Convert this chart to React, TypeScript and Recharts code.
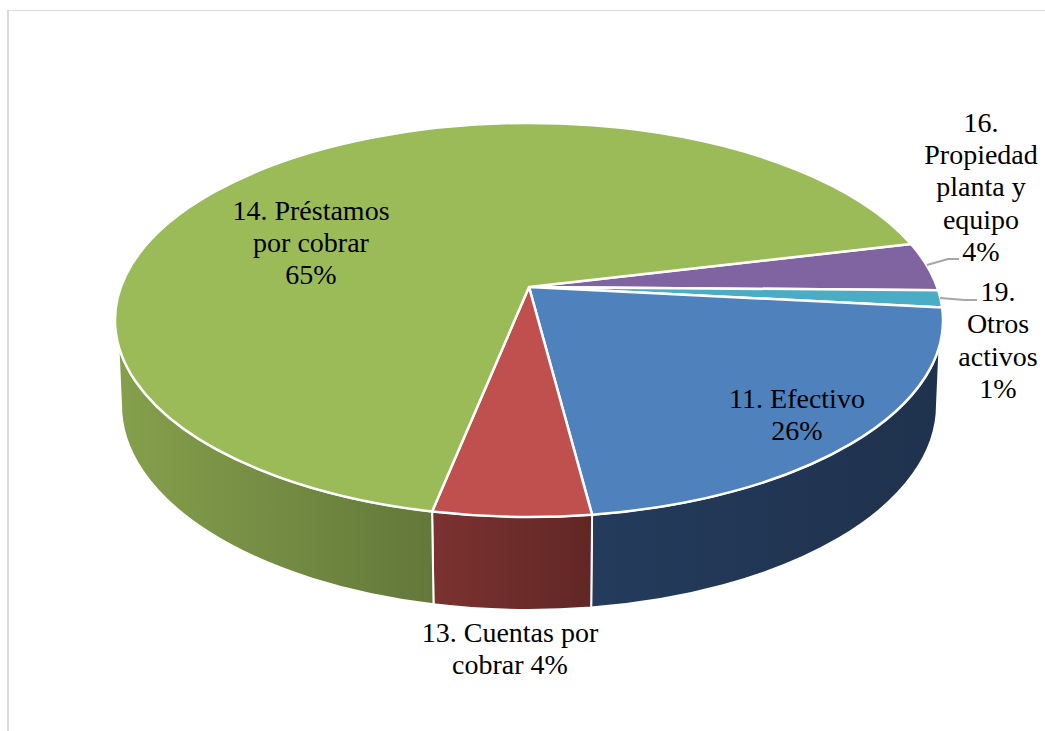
import React from 'react';
import { PieChart, Pie } from 'recharts';

// clockwise from the purple/green boundary
const categories = ['16. Propiedad planta y equipo', '19. Otros activos', '11. Efectivo', '13. Cuentas por cobrar', '14. Préstamos por cobrar'];
// wedge sizes as drawn on the rim (the printed percentages are in labelLines)
const drawnShares = [3.9, 1.4, 23.6, 6.2, 65.0];
const labelLines = [
  ['16.', 'Propiedad', 'planta y', 'equipo', '4%'],
  ['19.', 'Otros', 'activos', '1%'],
  ['11. Efectivo', '26%'],
  ['13. Cuentas por', 'cobrar 4%'],
  ['14. Préstamos', 'por cobrar', '65%'],
];
const topColors = ['#8064a2', '#4bacc6', '#4f81bd', '#c0504d', '#9bbb59'];
const wallColors = [
  ['#5f4a79', '#5f4a79'],
  ['#2f7f94', '#2f7f94'],
  ['#1f324d', '#243b5c'],
  ['#612725', '#7b3230'],
  ['#63783a', '#85a04c'],
];

const rows = categories.map((name, i) => ({ name, value: drawnShares[i], index: i }));

// pie geometry: top face ellipse, the apex sits above the ellipse centre (perspective)
const CX = 529;
const CY = 320;
const RX = 414;
const RY = 197;
const APEX_Y = 287;
const BOTTOM_RX = 408;
const BOTTOM_RY = 205;
const BOTTOM_CY = 405;
const WALL_TOP_CUT = 7.3;
const START_ANGLE = 22.7;

const LABEL_X = [981, 998, 797, 510, 311];
const LABEL_Y = [132, 301, 408, 642, 220];
const LINE_GAP = [32.2, 32.4, 32, 32, 32];
const LEADERS: Record<number, string> = {
  0: '927,265 948,259 959,259',
  1: '940,298 965,300 977,300',
};

const rad = (a: number) => (a * Math.PI) / 180;
const topPt = (a: number) => [CX + RX * Math.cos(rad(a)), CY - RY * Math.sin(rad(a))];
const botPt = (a: number) => [CX + BOTTOM_RX * Math.cos(rad(a)), BOTTOM_CY - BOTTOM_RY * Math.sin(rad(a))];

const TopFace = (props: any) => {
  const { startAngle, endAngle, index } = props;
  const [x0, y0] = topPt(startAngle);
  const [x1, y1] = topPt(endAngle);
  const large = Math.abs(startAngle - endAngle) > 180 ? 1 : 0;
  return (
    <path
      d={`M${CX},${APEX_Y} L${x0},${y0} A${RX},${RY} 0 ${large} 1 ${x1},${y1} Z`}
      fill={topColors[index]}
      stroke="#fff"
      strokeWidth={2.5}
      strokeLinejoin="round"
    />
  );
};

const WallFace = (props: any) => {
  const { startAngle, endAngle, index } = props;
  // only the front half of the rim shows
  const t0 = Math.min(startAngle, -WALL_TOP_CUT);
  const t1 = Math.max(endAngle, -180 + WALL_TOP_CUT);
  const b0 = Math.min(startAngle, 0);
  const b1 = Math.max(endAngle, -180);
  if (t0 <= t1) return <g />;
  const [ax, ay] = topPt(t0);
  const [bx, by] = topPt(t1);
  const [cx, cy] = botPt(b1);
  const [dx, dy] = botPt(b0);
  const id = `wall-${index}`;
  const [g1, g2] = [Math.min(ax, bx), Math.max(ax, bx)];
  return (
    <g>
      <defs>
        <linearGradient id={id} gradientUnits="userSpaceOnUse" x1={g2} y1={0} x2={g1} y2={0}>
          <stop offset="0%" stopColor={wallColors[index][0]} />
          <stop offset="100%" stopColor={wallColors[index][1]} />
        </linearGradient>
      </defs>
      <path
        d={`M${ax},${ay} A${RX},${RY} 0 0 1 ${bx},${by} L${cx},${cy} A${BOTTOM_RX},${BOTTOM_RY} 0 0 0 ${dx},${dy} Z`}
        fill={`url(#${id})`}
        stroke="#fff"
        strokeWidth={2}
        strokeLinejoin="round"
      />
    </g>
  );
};

const SliceLabel = (props: any) => {
  const i = props.index;
  return (
    <g>
      {LEADERS[i] && <polyline points={LEADERS[i]} fill="none" stroke="#a6a6a6" strokeWidth={2} />}
      <text
        x={LABEL_X[i]}
        y={LABEL_Y[i]}
        textAnchor="middle"
        fontFamily="'Liberation Serif', serif"
        fontSize={28}
        fill="#000"
      >
        {labelLines[i].map((line, n) => (
          <tspan key={n} x={LABEL_X[i]} y={LABEL_Y[i] + n * LINE_GAP[i]}>
            {line}
          </tspan>
        ))}
      </text>
    </g>
  );
};

export default function App() {
  return (
    <div style={{ position: 'absolute', left: 0, top: 0, width: 1045, height: 731, overflow: 'hidden', background: '#fff' }}>
      <div
        style={{
          position: 'absolute',
          left: 7,
          top: 10,
          width: 1045,
          height: 731,
          borderLeft: '2px solid #d9d9d9',
          borderTop: '1px solid #d9d9d9',
        }}
      />
      <div style={{ position: 'absolute', left: 0, top: 0 }}>
        <PieChart width={1045} height={731} margin={{ top: 0, right: 0, bottom: 0, left: 0 }}>
          <Pie
            data={rows}
            dataKey="value"
            nameKey="name"
            cx={CX}
            cy={CY}
            outerRadius={RX}
            startAngle={START_ANGLE}
            endAngle={START_ANGLE - 360}
            paddingAngle={0}
            isAnimationActive={false}
            shape={WallFace}
            label={false}
            labelLine={false}
          />
          <Pie
            data={rows}
            dataKey="value"
            nameKey="name"
            cx={CX}
            cy={CY}
            outerRadius={RX}
            startAngle={START_ANGLE}
            endAngle={START_ANGLE - 360}
            paddingAngle={0}
            isAnimationActive={false}
            shape={TopFace}
            label={SliceLabel}
            labelLine={false}
          />
        </PieChart>
      </div>
    </div>
  );
}
